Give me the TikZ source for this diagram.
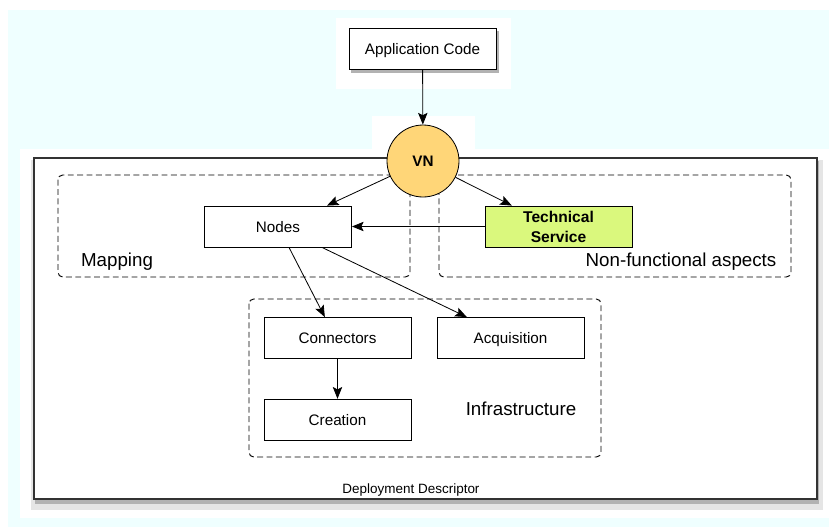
\documentclass[tikz,border=0pt]{standalone}
\usepackage{fontspec}
\setmainfont{Liberation Sans}
\usepackage{tikz}
\usetikzlibrary{arrows.meta}
\definecolor{vnorange}{RGB}{255,214,120}
\definecolor{techgreen}{RGB}{218,248,125}
\definecolor{bgcyan}{RGB}{239,255,255}

\begin{document}
\begin{tikzpicture}[x=0.03cm,y=-0.03cm,->,>={Stealth[length=10pt,width=8pt,inset=2pt]},line width=0.7pt,node distance=5.19cm,
    box node/.style={rectangle,draw,fill=white,minimum width=4.41cm,minimum height=1.23cm,text height=11pt,text depth=1.5pt,font=\fontsize{13}{15}\selectfont},
    group box/.style={-,draw,line width=0.8pt,dash pattern=on 5pt off 3pt,rounded corners=4pt},
    group label/.style={font=\fontsize{16}{19}\selectfont}]
    \useasboundingbox (0,0) rectangle (829,527);
    % page background
    \fill[bgcyan] (8,10) rectangle (829,527);
    \fill[white] (336,18) rectangle (511,89);
    \fill[white] (372,116) rectangle (475,150);
    \fill[white] (20,149) rectangle (829,518);
    % deployment descriptor frame
    \fill[black!10] (31,160) rectangle (823,510);
    \fill[black!30] (35,161) rectangle (819,504);
    \draw[-,line width=1.3pt,draw=black!80,fill=white] (34,158) rectangle (817,499);
    \node[font=\fontsize{11.5}{14}\selectfont] (dd) at (411,490) {Deployment Descriptor};
    % groups
    \draw[group box] (58,175) rectangle (410,277);
    \draw[group box] (439,175) rectangle (791,277);
    \draw[group box] (249,299) rectangle (601,457);
    \node[group label] (map) at (117,262) {Mapping};
    \node[group label] (nfa) at (681,262) {Non-functional aspects};
    \node[group label] (infra) at (521,409) {Infrastructure};

    \fill[black!30] (351,31) rectangle (499,73);
    \node[box node] (app) at (422.5,48.5) {Application Code};
    \node[circle,draw,fill=vnorange,minimum size=2.16cm,font=\fontsize{13}{15}\selectfont\bfseries] (vn) at (423,161) {VN};
    \node[box node] (nodes) at (278,226.5) {Nodes};
    \node[box node,fill=techgreen,align=center,text height=,text depth=,font=\fontsize{13.3}{17}\selectfont\bfseries] (tech) at (558.5,226.5) {Technical\\Service};
    \node[box node] (conn) at (337.5,338) {Connectors};
    \node[box node] (acq) [right of=conn] {Acquisition};
    \node[box node,node distance=2.45cm] (creat) [below of=conn] {Creation};

    \draw (app) -- (vn);
    \draw (vn) -- ([xshift=1.47cm]nodes.north);
    \draw (vn) -- ([xshift=-1.4cm]tech.north);
    \draw (tech) -- (nodes);
    \draw ([xshift=0.33cm]nodes.south) -- ([xshift=-0.38cm]conn.north);
    \draw ([xshift=1.32cm]nodes.south) -- ([xshift=-1.31cm]acq.north);
    \draw (conn) -- (creat);
\end{tikzpicture}
\end{document}
